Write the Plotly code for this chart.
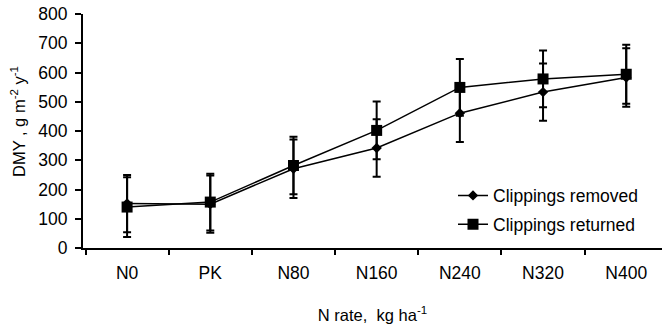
import plotly.graph_objects as go

categories = ["N0", "PK", "N80", "N160", "N240", "N320", "N400"]
removed = [152, 150, 271, 342, 461, 533, 583]
removed_err = [98, 98, 100, 98, 99, 98, 100]
returned = [140, 157, 282, 402, 549, 578, 594]
returned_err = [102, 97, 98, 99, 97, 97, 101]

FONT = "Liberation Sans, Arial, sans-serif"

fig = go.Figure()
fig.add_trace(go.Scatter(
    x=categories, y=removed, name="Clippings removed", legendgroup="a",
    mode="lines+markers",
    line=dict(color="black", width=1.5),
    marker=dict(symbol="diamond", size=8, color="black"),
    error_y=dict(type="data", array=removed_err, visible=True,
                 color="black", thickness=2, width=4),
))
fig.add_trace(go.Scatter(
    x=categories, y=returned, name="Clippings returned", legendgroup="b",
    mode="lines+markers",
    line=dict(color="black", width=1.5),
    marker=dict(symbol="square", size=11, color="black"),
    error_y=dict(type="data", array=returned_err, visible=True,
                 color="black", thickness=2, width=4),
))

fig.update_layout(
    width=662, height=332,
    margin=dict(l=83, r=0, t=14, b=84),
    paper_bgcolor="white", plot_bgcolor="white",
    font=dict(family=FONT, size=17.5, color="black"),
    showlegend=True,
    legend=dict(x=(453 - 83) / 579, xanchor="left",
                y=(332 - 84 - 210) / 234, yanchor="middle",
                bgcolor="rgba(0,0,0,0)", font=dict(size=17.5),
                tracegroupgap=3, traceorder="grouped"),
    xaxis=dict(
        type="category", range=[-0.53, 6.43],
        showline=True, linecolor="black", linewidth=2,
        ticks="outside", tickson="boundaries", ticklen=5, tickwidth=1.5,
        tickcolor="black", showgrid=False, zeroline=False,
        ticklabelstandoff=8,
        title=dict(text="N rate,  kg ha<sup>-1</sup>", font=dict(size=16.5), standoff=27),
    ),
    yaxis=dict(
        range=[0, 800], tickvals=[0, 100, 200, 300, 400, 500, 600, 700, 800],
        showline=True, linecolor="black", linewidth=2,
        ticks="outside", ticklen=6, tickwidth=1.5, tickcolor="black",
        showgrid=False, zeroline=False,
        ticklabelstandoff=4,
    ),
    annotations=[dict(
        text="DMY , g m<sup>-2</sup> y<sup>-1</sup>", textangle=-90,
        xref="paper", yref="paper",
        x=(18 - 83) / 579, y=(248 - 122) / 234,
        xanchor="center", yanchor="middle", showarrow=False,
        font=dict(size=16.5, family=FONT, color="black"),
    )],
)

fig.write_html("out.html")
